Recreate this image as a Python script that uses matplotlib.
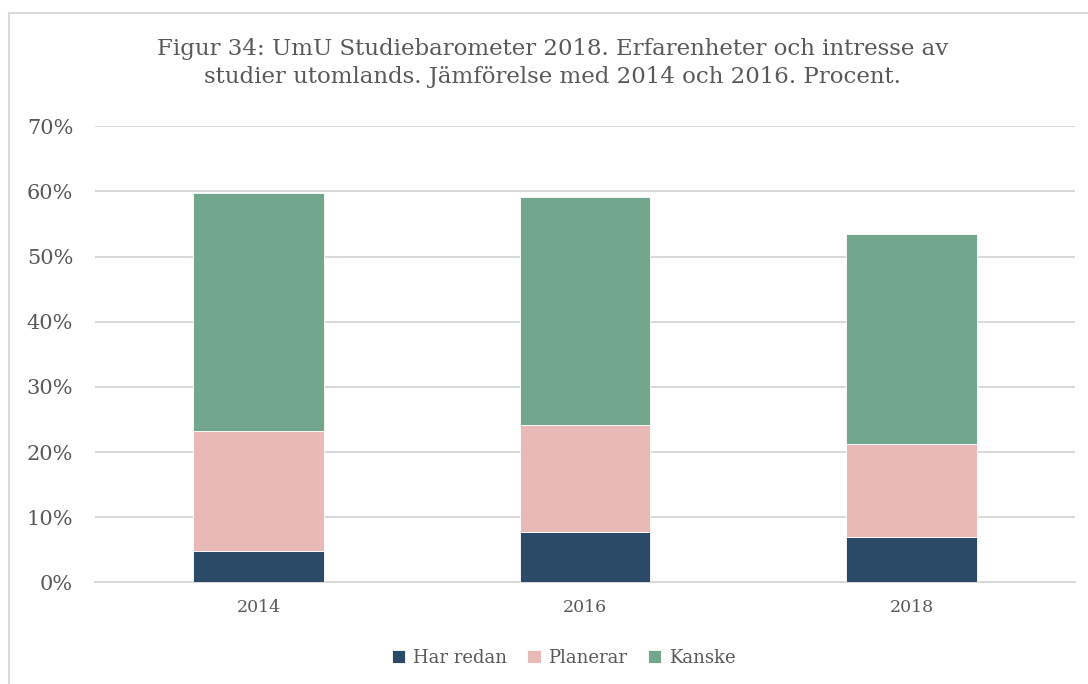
import matplotlib.pyplot as plt
import numpy as np
from matplotlib.lines import Line2D
from matplotlib.ticker import FuncFormatter

years = ["2014", "2016", "2018"]
series_names = ["Har redan", "Planerar", "Kanske"]
har_redan = [4.8, 7.8, 7.0]
planerar = [18.5, 16.4, 14.3]
kanske = [36.4, 35.0, 32.2]

colors = ["#2B4A68", "#E9B9B7", "#72A78E"]
text_color = "#595959"
grid_color = "#D9D9D9"

plt.rcParams["font.family"] = ["DejaVu Serif"]

fig = plt.figure(figsize=(10.88, 6.84), dpi=100)
ax = fig.add_axes([0.0877, 0.1484, 0.9003, 0.667])

x = np.arange(len(years))
bottom = np.zeros(len(years))
for name, values, color in zip(series_names, [har_redan, planerar, kanske], colors):
    ax.bar(x, values, width=0.4, bottom=bottom, color=color, label=name,
           edgecolor="white", linewidth=0.6, zorder=3)
    bottom += np.array(values)

ax.set_xlim(-0.5, len(years) - 0.5)
ax.set_ylim(0, 70)
ax.set_yticks(np.arange(0, 71, 10))
ax.yaxis.set_major_formatter(FuncFormatter(lambda v, _: f"{v:.0f}%"))
ax.set_xticks(x)
ax.set_xticklabels(years)

ax.grid(axis="y", color=grid_color, linewidth=1.4, zorder=0)
for side in ["top", "right", "left"]:
    ax.spines[side].set_visible(False)
ax.spines["bottom"].set_color(grid_color)
ax.spines["bottom"].set_linewidth(1.4)
ax.tick_params(axis="both", length=0, colors=text_color)
ax.tick_params(axis="y", labelsize=15, pad=16)
ax.tick_params(axis="x", labelsize=12.5, pad=12)

fig.text(0.508, 0.908,
         "Figur 34: UmU Studiebarometer 2018. Erfarenheter och intresse av\n"
         "studier utomlands. Jämförelse med 2014 och 2016. Procent.",
         ha="center", va="center", fontsize=16.5, color=text_color,
         linespacing=1.35)

fig.legend(loc="center", bbox_to_anchor=(0.518, 0.038), ncol=3, frameon=False,
           fontsize=13, labelcolor=text_color, handlelength=0.75,
           handleheight=0.75, handletextpad=0.4, columnspacing=1.15)

# thin frame around the chart area
fig.add_artist(Line2D([9 / 1088, 9 / 1088], [0, 1 - 13 / 684],
                      transform=fig.transFigure, color=grid_color, linewidth=1.5))
fig.add_artist(Line2D([9 / 1088, 1], [1 - 13 / 684, 1 - 13 / 684],
                      transform=fig.transFigure, color=grid_color, linewidth=1.5))

fig.savefig("out.png", dpi=100)
